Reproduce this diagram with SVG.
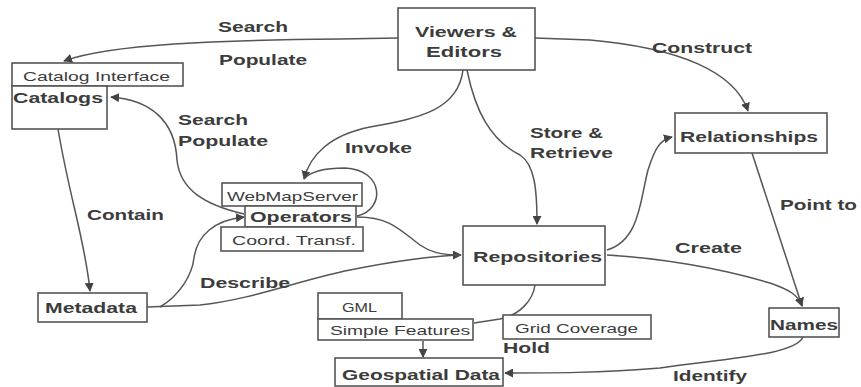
<svg xmlns="http://www.w3.org/2000/svg" width="861" height="387" viewBox="0 0 861 387">
<style>
.box{fill:#fff;stroke:#555;stroke-width:1.6}
.lb{font-family:"Liberation Sans",Arial,sans-serif;font-weight:bold;font-size:15px;fill:#3c3c3c}
.sm{font-family:"Liberation Sans",Arial,sans-serif;font-size:13px;fill:#3c3c3c}
.ln{fill:none;stroke:#555;stroke-width:1.5}
.ar{marker-end:url(#ah)}
</style>
<defs>
<marker id="ah" viewBox="0 0 10 10" refX="9" refY="5" markerWidth="9" markerHeight="9" markerUnits="userSpaceOnUse" orient="auto">
<path d="M0,0 L10,5 L0,10 z" fill="#444"/>
</marker>
</defs>
<rect width="861" height="387" fill="#fff"/>
<g id="connectors">
<path class="ln ar" d="M398,38 L340,39 C220,40 110,44 64,61"/>
<path class="ln ar" d="M535,38 L590,40 C680,48 735,72 748,111"/>
<path class="ln ar" d="M463,70 C458,110 420,118 370,127 C330,135 310,155 304,179"/>
<path class="ln" d="M357,216 C385,210 385,170 345,168 C322,168 310,172 304,179"/>
<path class="ln ar" d="M467,70 C475,110 490,140 520,155 C535,165 537,190 537,224"/>
<path class="ln ar" d="M244,214 C205,205 180,190 177,160 C175,120 150,100 111,97"/>
<path class="ln ar" d="M160,307 C180,295 192,275 194,258 C197,235 215,220 244,217"/>
<path class="ln ar" d="M357,217 C390,217 400,230 420,245 C430,252 440,255 461,255"/>
<path class="ln" d="M147,307 L200,305 C250,300 300,280 350,270 C400,260 430,256 461,255"/>
<path class="ln ar" d="M58,129 C70,200 85,240 90,291"/>
<path class="ln ar" d="M607,250 C640,240 640,200 648,170 C655,148 660,140 672,137"/>
<path class="ln ar" d="M752,153 L802,306"/>
<path class="ln ar" d="M607,255 C660,258 720,268 770,283 C790,290 798,295 802,306"/>
<path class="ln ar" d="M803,337 C795,355 730,358 660,368 C600,373 550,373 505,373"/>
<path class="ln" d="M535,285 C533,300 520,315 500,319 L474,323"/>
<path class="ln ar" d="M423,341 L423,357"/>
</g>
<g id="viewers">
<rect class="box" x="398" y="8" width="137" height="62"/>
<text class="lb" x="415" y="37" textLength="102" lengthAdjust="spacingAndGlyphs">Viewers &amp;</text>
<text class="lb" x="426" y="57" textLength="76" lengthAdjust="spacingAndGlyphs">Editors</text>
</g>
<g id="catalogs">
<rect class="box" x="12" y="63" width="171" height="23"/>
<text class="sm" x="23" y="81" textLength="147" lengthAdjust="spacingAndGlyphs">Catalog Interface</text>
<rect class="box" x="12" y="86" width="95" height="43"/>
<text class="lb" x="13" y="103" textLength="90" lengthAdjust="spacingAndGlyphs">Catalogs</text>
</g>
<g id="relationships">
<rect class="box" x="675" y="113" width="152" height="40"/>
<text class="lb" x="680" y="142" textLength="138" lengthAdjust="spacingAndGlyphs">Relationships</text>
</g>
<g id="operators">
<rect class="box" x="222" y="183" width="140" height="23"/>
<text class="sm" x="227" y="201" textLength="131" lengthAdjust="spacingAndGlyphs">WebMapServer</text>
<rect class="box" x="245" y="206" width="111" height="21"/>
<text class="lb" x="250" y="222" textLength="102" lengthAdjust="spacingAndGlyphs">Operators</text>
<rect class="box" x="221" y="227" width="142" height="24"/>
<text class="sm" x="232" y="245" textLength="124" lengthAdjust="spacingAndGlyphs">Coord. Transf.</text>
</g>
<g id="repositories">
<rect class="box" x="463" y="226" width="142" height="59"/>
<text class="lb" x="473" y="262" textLength="129" lengthAdjust="spacingAndGlyphs">Repositories</text>
</g>
<g id="metadata">
<rect class="box" x="38" y="293" width="109" height="29"/>
<text class="lb" x="45" y="313" textLength="92" lengthAdjust="spacingAndGlyphs">Metadata</text>
</g>
<g id="names">
<rect class="box" x="769" y="308" width="70" height="29"/>
<text class="lb" x="770" y="330" textLength="68" lengthAdjust="spacingAndGlyphs">Names</text>
</g>
<g id="geodata">
<rect class="box" x="318" y="293" width="84" height="26"/>
<text class="sm" x="342" y="312" textLength="35" lengthAdjust="spacingAndGlyphs">GML</text>
<rect class="box" x="318" y="319" width="155" height="21"/>
<text class="sm" x="330" y="335" textLength="140" lengthAdjust="spacingAndGlyphs">Simple Features</text>
<rect class="box" x="503" y="315" width="148" height="24"/>
<text class="sm" x="515" y="333" textLength="123" lengthAdjust="spacingAndGlyphs">Grid Coverage</text>
<rect class="box" x="335" y="358" width="168" height="28"/>
<text class="lb" x="342" y="380" textLength="158" lengthAdjust="spacingAndGlyphs">Geospatial Data</text>
</g>
<g id="labels">
<text class="lb" x="218" y="32" textLength="70" lengthAdjust="spacingAndGlyphs">Search</text>
<text class="lb" x="219" y="65" textLength="88" lengthAdjust="spacingAndGlyphs">Populate</text>
<text class="lb" x="652" y="53" textLength="100" lengthAdjust="spacingAndGlyphs">Construct</text>
<text class="lb" x="178" y="125" textLength="70" lengthAdjust="spacingAndGlyphs">Search</text>
<text class="lb" x="178" y="146" textLength="90" lengthAdjust="spacingAndGlyphs">Populate</text>
<text class="lb" x="345" y="153" textLength="67" lengthAdjust="spacingAndGlyphs">Invoke</text>
<text class="lb" x="530" y="138" textLength="73" lengthAdjust="spacingAndGlyphs">Store &amp;</text>
<text class="lb" x="530" y="158" textLength="83" lengthAdjust="spacingAndGlyphs">Retrieve</text>
<text class="lb" x="87" y="220" textLength="77" lengthAdjust="spacingAndGlyphs">Contain</text>
<text class="lb" x="780" y="210" textLength="77" lengthAdjust="spacingAndGlyphs">Point to</text>
<text class="lb" x="675" y="253" textLength="67" lengthAdjust="spacingAndGlyphs">Create</text>
<text class="lb" x="200" y="288" textLength="90" lengthAdjust="spacingAndGlyphs">Describe</text>
<text class="lb" x="503" y="353" textLength="47" lengthAdjust="spacingAndGlyphs">Hold</text>
<text class="lb" x="673" y="381" textLength="74" lengthAdjust="spacingAndGlyphs">Identify</text>
</g>
</svg>
